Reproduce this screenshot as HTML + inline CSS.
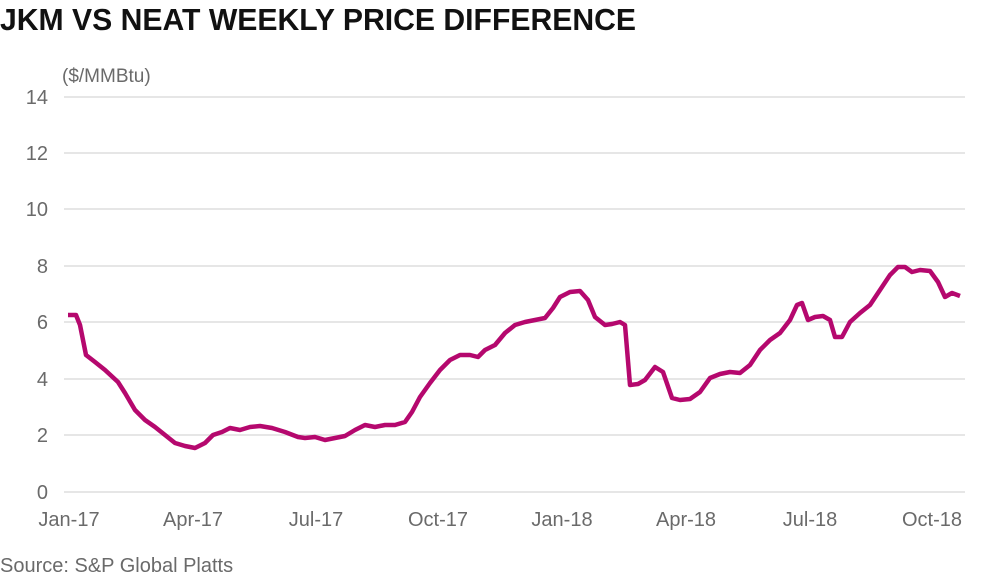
<!DOCTYPE html>
<html><head><meta charset="utf-8"><style>
body{margin:0;background:#fff;width:1000px;height:580px;overflow:hidden;font-family:"Liberation Sans",sans-serif}
</style></head><body>
<svg width="1000" height="580" xmlns="http://www.w3.org/2000/svg" font-family="Liberation Sans, sans-serif">
<text x="0" y="30" font-size="31" font-weight="bold" fill="#111" textLength="636" lengthAdjust="spacingAndGlyphs">JKM VS NEAT WEEKLY PRICE DIFFERENCE</text>
<text x="62" y="82" font-size="19" fill="#6a6a6a">($/MMBtu)</text>
<g stroke="#e6e6e6" stroke-width="2">
<line x1="64" x2="965" y1="97" y2="97"/><line x1="64" x2="965" y1="153" y2="153"/>
<line x1="64" x2="965" y1="209" y2="209"/><line x1="64" x2="965" y1="266" y2="266"/>
<line x1="64" x2="965" y1="322" y2="322"/><line x1="64" x2="965" y1="379" y2="379"/>
<line x1="64" x2="965" y1="435" y2="435"/><line x1="64" x2="965" y1="492" y2="492"/>
</g>
<g font-size="20" fill="#6a6a6a" text-anchor="end">
<text x="48" y="104">14</text><text x="48" y="160">12</text><text x="48" y="216">10</text>
<text x="48" y="273">8</text><text x="48" y="329">6</text><text x="48" y="386">4</text>
<text x="48" y="442">2</text><text x="48" y="499">0</text>
</g>
<g font-size="20" fill="#6a6a6a" text-anchor="middle">
<text x="69" y="526">Jan-17</text><text x="193" y="526">Apr-17</text><text x="316" y="526">Jul-17</text>
<text x="438" y="526">Oct-17</text><text x="562" y="526">Jan-18</text><text x="686" y="526">Apr-18</text>
<text x="810" y="526">Jul-18</text><text x="932" y="526">Oct-18</text>
</g>
<text x="0" y="572" font-size="20" fill="#6a6a6a">Source: S&amp;P Global Platts</text>
<polyline fill="none" stroke="#b5086e" stroke-width="4.5" stroke-linejoin="round" points="68,315 76,315 80,325 86,355 95,362 105,370 118,382 125,393 135,410 145,420 155,427 165,435 175,443 185,446 195,448 205,443 213,435 222,432 230,428 240,430 250,427 260,426 272,428 285,432 298,437 305,438 315,437 325,440 335,438 345,436 355,430 365,425 375,427 385,425 395,425 405,422 412,412 420,397 430,383 440,370 450,360 460,355 470,355 478,357 485,350 495,345 505,333 515,325 525,322 535,320 545,318 553,308 560,297 570,292 580,291 588,300 595,317 605,325 612,324 620,322 625,325 630,385 638,384 645,380 655,367 663,372 672,398 680,400 690,399 700,392 710,378 720,374 730,372 740,373 750,365 760,350 770,340 780,333 790,320 797,305 802,303 808,320 815,317 823,316 830,320 835,337 842,337 850,322 860,313 870,305 880,290 890,275 898,267 905,267 912,272 920,270 930,271 938,282 945,297 952,293 960,296"/>
</svg>
</body></html>
